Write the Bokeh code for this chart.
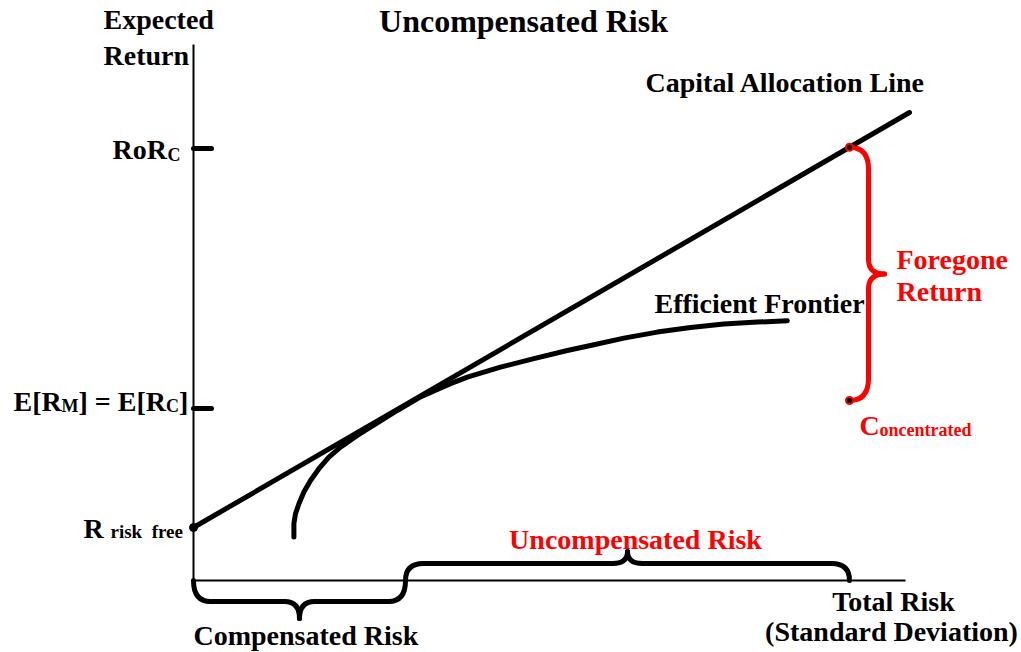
import numpy as np
from bokeh.plotting import figure
from bokeh.models import Range1d
from bokeh.core.properties import value
from bokeh.embed import file_html
from bokeh.resources import INLINE

# risk (std dev, %) and expected return (%)
cal_risk = [0.0, 35.8]
cal_return = [2.65, 23.4]

frontier_risk = [5.02, 5.02, 5.10, 5.27, 5.52, 5.85, 6.27, 6.77, 7.35, 8.19, 9.19, 10.19, 11.35,
                 12.02, 12.85, 13.69, 15.35, 17.02, 18.69, 19.85, 21.52, 23.19, 24.85, 26.52,
                 28.19, 29.69]
frontier_return = [2.17, 2.84, 3.34, 3.84, 4.42, 5.0, 5.59, 6.17, 6.67, 7.25, 7.88, 8.5, 9.18,
                   9.48, 9.84, 10.17, 10.67, 11.09, 11.5, 11.75, 12.12, 12.42, 12.65, 12.82,
                   12.92, 12.99]

risk_free = 2.65
market_return = 8.6      # E[R_M] = E[R_C]
ror_c = 21.6             # RoR_C
market_risk = 10.6       # end of compensated risk
conc_risk = 32.8         # concentrated portfolio risk
conc_return = 9.0
axis_risk_max = 35.6
axis_return_max = 26.8

FONT = value("Liberation Serif")
RED = "#ff0000"

# 20 px per unit, origin of the axes at picture pixel (193, 580)
def X(px):
    return (px - 193) / 20.0

def Y(py):
    return (580 - py) / 20.0

p = figure(width=1021, height=652, x_range=Range1d(X(0), X(1021)), y_range=Range1d(Y(652), Y(0)),
           output_backend="svg", toolbar_location=None, min_border=0)
p.axis.visible = False
p.grid.visible = False
p.outline_line_color = None

# axes
p.segment(x0=[0, 0], y0=[0, 0], x1=[axis_risk_max, 0], y1=[0, axis_return_max], line_color="black", line_width=2)
# tick marks
p.segment(x0=[0, 0], y0=[market_return, ror_c], x1=[0.9, 0.9], y1=[market_return, ror_c],
          line_color="black", line_width=5, line_cap="round")

p.line(cal_risk, cal_return, line_color="black", line_width=5, line_cap="round")
p.line(frontier_risk, frontier_return, line_color="black", line_width=5, line_cap="round", line_join="round")


def brace(a, b, normal, depth, tip, corner, tip_w, color):
    a = np.array(a, dtype=float)
    b = np.array(b, dtype=float)
    n = np.array(normal, dtype=float)
    u = (b - a) / np.linalg.norm(b - a)
    m = (a + b) / 2
    arm_a, arm_b, arm_m = a + n * depth, b + n * depth, m + n * depth
    p1, p4 = arm_a + u * corner, arm_b - u * corner
    p2, p3 = arm_m - u * tip_w, arm_m + u * tip_w
    tp = m + n * (depth + tip)
    starts = [a, p2, tp, p4]
    ends = [p1, tp, p3, b]
    ctrls = [arm_a, arm_m, arm_m, arm_b]
    p.quadratic(x0=[s[0] for s in starts], y0=[s[1] for s in starts],
                x1=[e[0] for e in ends], y1=[e[1] for e in ends],
                cx=[c[0] for c in ctrls], cy=[c[1] for c in ctrls],
                line_color=color, line_width=5, line_cap="round")
    p.segment(x0=[p1[0], p3[0]], y0=[p1[1], p3[1]], x1=[p2[0], p4[0]], y1=[p2[1], p4[1]],
              line_color=color, line_width=5, line_cap="round")


conc_top = float(np.interp(conc_risk, cal_risk, cal_return))
brace((0, 0), (market_risk, 0), (0, -1), 1.05, 0.85, 0.85, 0.75, "black")
brace((market_risk, 0), (conc_risk, 0), (0, 1), 0.85, 0.6, 0.9, 0.75, "black")
brace((conc_risk, conc_top), (conc_risk, conc_return), (1, 0), 0.95, 0.8, 1.1, 0.75, RED)

p.scatter([0], [risk_free], size=8, color="black")
p.scatter([conc_risk, conc_risk], [conc_top, conc_return], size=7, fill_color="black",
          line_color=RED, line_width=2)

TEXT_SHIFT = 9  # svg baseline sits a bit low


def txt(px, py, s, size="28px", color="black", align="left"):
    p.text(x=[X(px)], y=[Y(py - TEXT_SHIFT)], text=[s], text_font=FONT, text_font_style="bold",
           text_font_size=size, text_color=color, text_align=align, text_baseline="alphabetic")


txt(523, 29, "Uncompensated Risk", size="32px", align="center")
txt(103, 28, "Expected")
txt(103, 64, "Return")
txt(112, 158, "RoR")
txt(167, 163, "C", size="18px")
txt(13, 410, "E[R")
txt(61, 414, "M", size="18px")
txt(78, 410, "] = E[R")
txt(165.5, 414, "C", size="18px")
txt(178.5, 410, "]")
txt(83, 537, "R")
txt(110, 540, "risk\u2002free", size="19px")
txt(645, 91, "Capital Allocation Line")
txt(654, 312, "Efficient Frontier")
txt(896, 268, "Foregone", color=RED)
txt(896, 300, "Return", color=RED)
txt(859, 434, "C", color=RED)
txt(879, 438, "oncentrated", size="18px", color=RED)
txt(635, 548, "Uncompensated Risk", color=RED, align="center")
txt(193, 644, "Compensated Risk")
txt(893, 610, "Total Risk", align="center")
txt(891, 640, "(Standard Deviation)", align="center")

open("out.html", "w").write(file_html(p, INLINE))
